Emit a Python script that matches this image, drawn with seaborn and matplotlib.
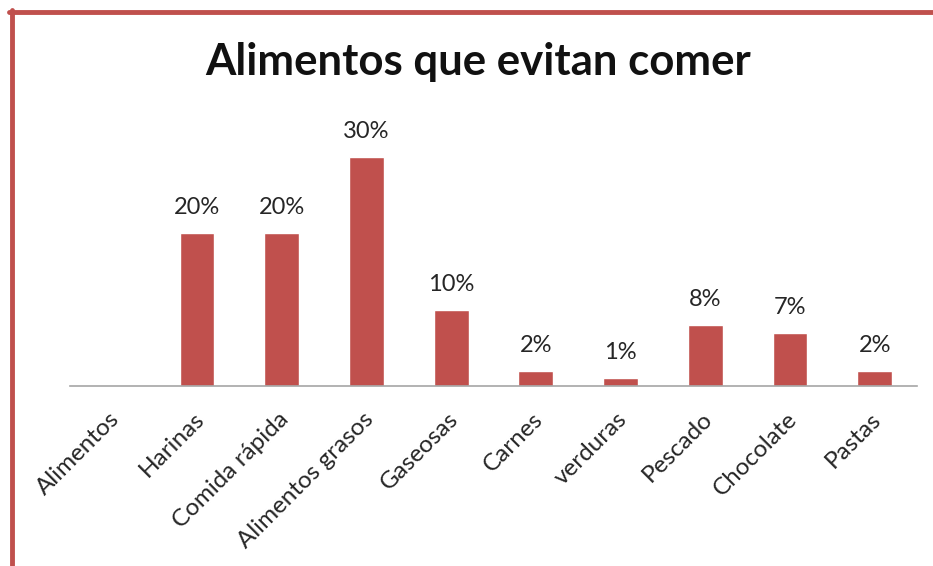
import matplotlib
matplotlib.use("Agg")
import matplotlib.pyplot as plt
import matplotlib.transforms as mtransforms
import seaborn as sns
import pandas as pd
import numpy as np
from matplotlib.lines import Line2D

categories = ["Alimentos", "Harinas", "Comida rápida", "Alimentos grasos", "Gaseosas",
              "Carnes", "verduras", "Pescado", "Chocolate", "Pastas"]
values = [np.nan, 0.20, 0.20, 0.30, 0.10, 0.02, 0.01, 0.08, 0.07, 0.02]
labels = ["", "20%", "20%", "30%", "10%", "2%", "1%", "8%", "7%", "2%"]
title = "Alimentos que evitan comer"

sns.set_theme(style="white")
plt.rcParams['font.family'] = ['Lato', 'DejaVu Sans']

df = pd.DataFrame({"cat": categories, "val": values})

fig = plt.figure(figsize=(9.33, 5.66), dpi=100)
ax = fig.add_axes([70/933, 1 - 386/566, (917-70)/933, (386-119)/566])

sns.barplot(data=df, x="cat", y="val", color="#C0504D", width=0.41,
            saturation=1, ax=ax, order=categories)

ax.set_ylim(0, 0.35)
ax.set_xlim(-0.5, len(categories) - 0.5)
ax.set_xlabel("")
ax.set_ylabel("")
ax.set_yticks([])
for s in ["top", "right", "left"]:
    ax.spines[s].set_visible(False)
ax.spines["bottom"].set_color("#A6A6A6")
ax.spines["bottom"].set_linewidth(1.2)

ax.tick_params(axis="x", length=0, pad=16)
ax.set_xticks(range(len(categories)))
ax.set_xticklabels(categories, rotation=45, ha="right", rotation_mode="anchor",
                   fontsize=17.5, color="#262626")
shift = mtransforms.ScaledTranslation(-4/100, 0, fig.dpi_scale_trans)
for t in ax.get_xticklabels():
    t.set_transform(t.get_transform() + shift)

for i, (v, lab) in enumerate(zip(values, labels)):
    if lab:
        ax.annotate(lab, xy=(i, v), xytext=(0, 19), textcoords="offset pixels",
                    ha="center", va="baseline", fontsize=17, color="#262626")

fig.text(478/933, 1 - 75/566, title, ha="center", va="baseline",
         fontsize=31.5, fontweight="bold", color="#111111")

border = "#C0504D"
fig.add_artist(Line2D([9/933, 1], [1 - 11.5/566, 1 - 11.5/566], color=border, lw=3.5,
                      transform=fig.transFigure))
fig.add_artist(Line2D([11.5/933, 11.5/933], [0, 1 - 10/566], color=border, lw=3.5,
                      transform=fig.transFigure))

fig.savefig("out.png", dpi=100)
